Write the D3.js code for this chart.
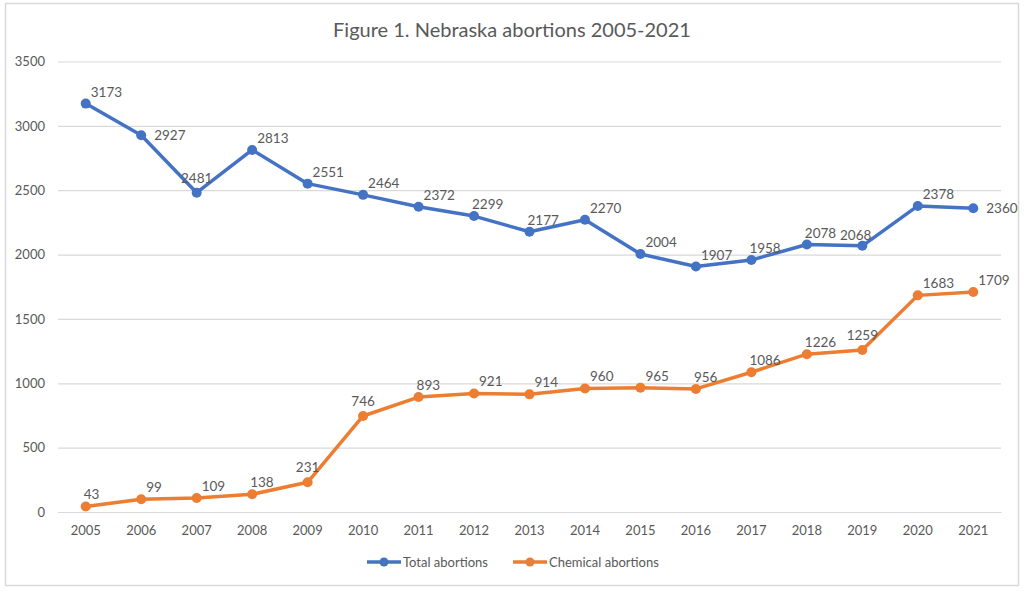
<!DOCTYPE html>
<html><head><meta charset="utf-8">
<script src="https://cdn.jsdelivr.net/npm/d3@7/dist/d3.min.js"></script>
<style>body{margin:0;background:#fff}svg{display:block}text{font-family:Lato,"Open Sans",sans-serif;fill:#595959}</style>
</head><body><svg id="c" width="1024" height="591"></svg>
<script>
const years = ["2005","2006","2007","2008","2009","2010","2011","2012","2013","2014","2015","2016","2017","2018","2019","2020","2021"];
const totalAbortions = [3173,2927,2481,2813,2551,2464,2372,2299,2177,2270,2004,1907,1958,2078,2068,2378,2360];
const chemicalAbortions = [43,99,109,138,231,746,893,921,914,960,965,956,1086,1226,1259,1683,1709];
const yTicks = [0,500,1000,1500,2000,2500,3000,3500];
const seriesNames = ["Total abortions","Chemical abortions"];
const colors = ["#4472C4","#ED7D31"];
// label placement style per point ("ar" above-right, "u" up, "r" right, "a" above-centred, "al" above-left)
const totalPlace = ["ar","r","a","ar","ar","ar","ar","u","u","ar","ar","ar","u","u","al","ar","r"];
const chemPlace = ["u","ar","ar","u","a","a","u","ar","ar","ar","ar","u","u","u","a","ar","ar"];

const svg = d3.select("#c");
svg.append("rect").attr("x",5.5).attr("y",3.5).attr("width",1013).attr("height",582)
  .attr("fill","#fff").attr("stroke","#d9d9d9").attr("stroke-width",1.5);
svg.append("text").attr("x",512).attr("y",37).attr("text-anchor","middle")
  .style("font-size","20px").text("Figure 1. Nebraska abortions 2005-2021");

const x = d3.scaleBand().domain(years).range([58,1001]);
const y = d3.scaleLinear().domain([0,3500]).range([512,61.5]);
const cx = d => x(d) + x.bandwidth()/2;

const gy = svg.append("g").attr("transform","translate(58,0)")
  .call(d3.axisLeft(y).tickValues(yTicks).tickSize(-943).tickPadding(13).tickFormat(d3.format("d")));
gy.select(".domain").remove();
gy.selectAll("line").attr("stroke","#d9d9d9").attr("stroke-width",1.2);
gy.selectAll("text").style("font-size","13px").style("font-family","Lato,'Open Sans',sans-serif").attr("fill","#595959");

const gx = svg.append("g").attr("transform","translate(0,512)")
  .call(d3.axisBottom(x).tickSize(0).tickPadding(14));
gx.select(".domain").attr("stroke","#d9d9d9").attr("stroke-width",1.2);
gx.selectAll("text").style("font-size","13px").style("font-family","Lato,'Open Sans',sans-serif").attr("fill","#595959");

const anchorOf = {ar:"start",u:"start",r:"start",a:"middle",al:"end"};
const dxOf = {ar:5,u:-2,r:13,a:0,al:9};
const dyOf = {ar:-7,u:-7,r:5,a:-10,al:-6};

function drawSeries(vals, color, place){
  const pts = years.map((yr,i)=>({x:cx(yr), y:y(vals[i]), v:vals[i], p:place[i]}));
  svg.append("path").datum(pts).attr("fill","none").attr("stroke",color).attr("stroke-width",3.5)
    .attr("stroke-linejoin","round").attr("d", d3.line().x(d=>d.x).y(d=>d.y));
  svg.append("g").selectAll("circle").data(pts).join("circle")
    .attr("cx",d=>d.x).attr("cy",d=>d.y).attr("r",5).attr("fill",color);
  svg.append("g").selectAll("text").data(pts).join("text")
    .style("font-size","13.5px")
    .attr("text-anchor", d=> anchorOf[d.p])
    .attr("x", d=> d.x + dxOf[d.p])
    .attr("y", d=> d.y + dyOf[d.p])
    .text(d=>d.v);
}
drawSeries(totalAbortions, colors[0], totalPlace);
drawSeries(chemicalAbortions, colors[1], chemPlace);

const legX = [367, 513];
seriesNames.forEach((n,i)=>{
  const g = svg.append("g").attr("transform",`translate(${legX[i]},562)`);
  g.append("line").attr("x1",0).attr("x2",34).attr("stroke",colors[i]).attr("stroke-width",3.5);
  g.append("circle").attr("cx",17).attr("r",4.5).attr("fill",colors[i]);
  g.append("text").attr("x",36).attr("y",5).style("font-size","13px").text(n);
});
</script></body></html>
